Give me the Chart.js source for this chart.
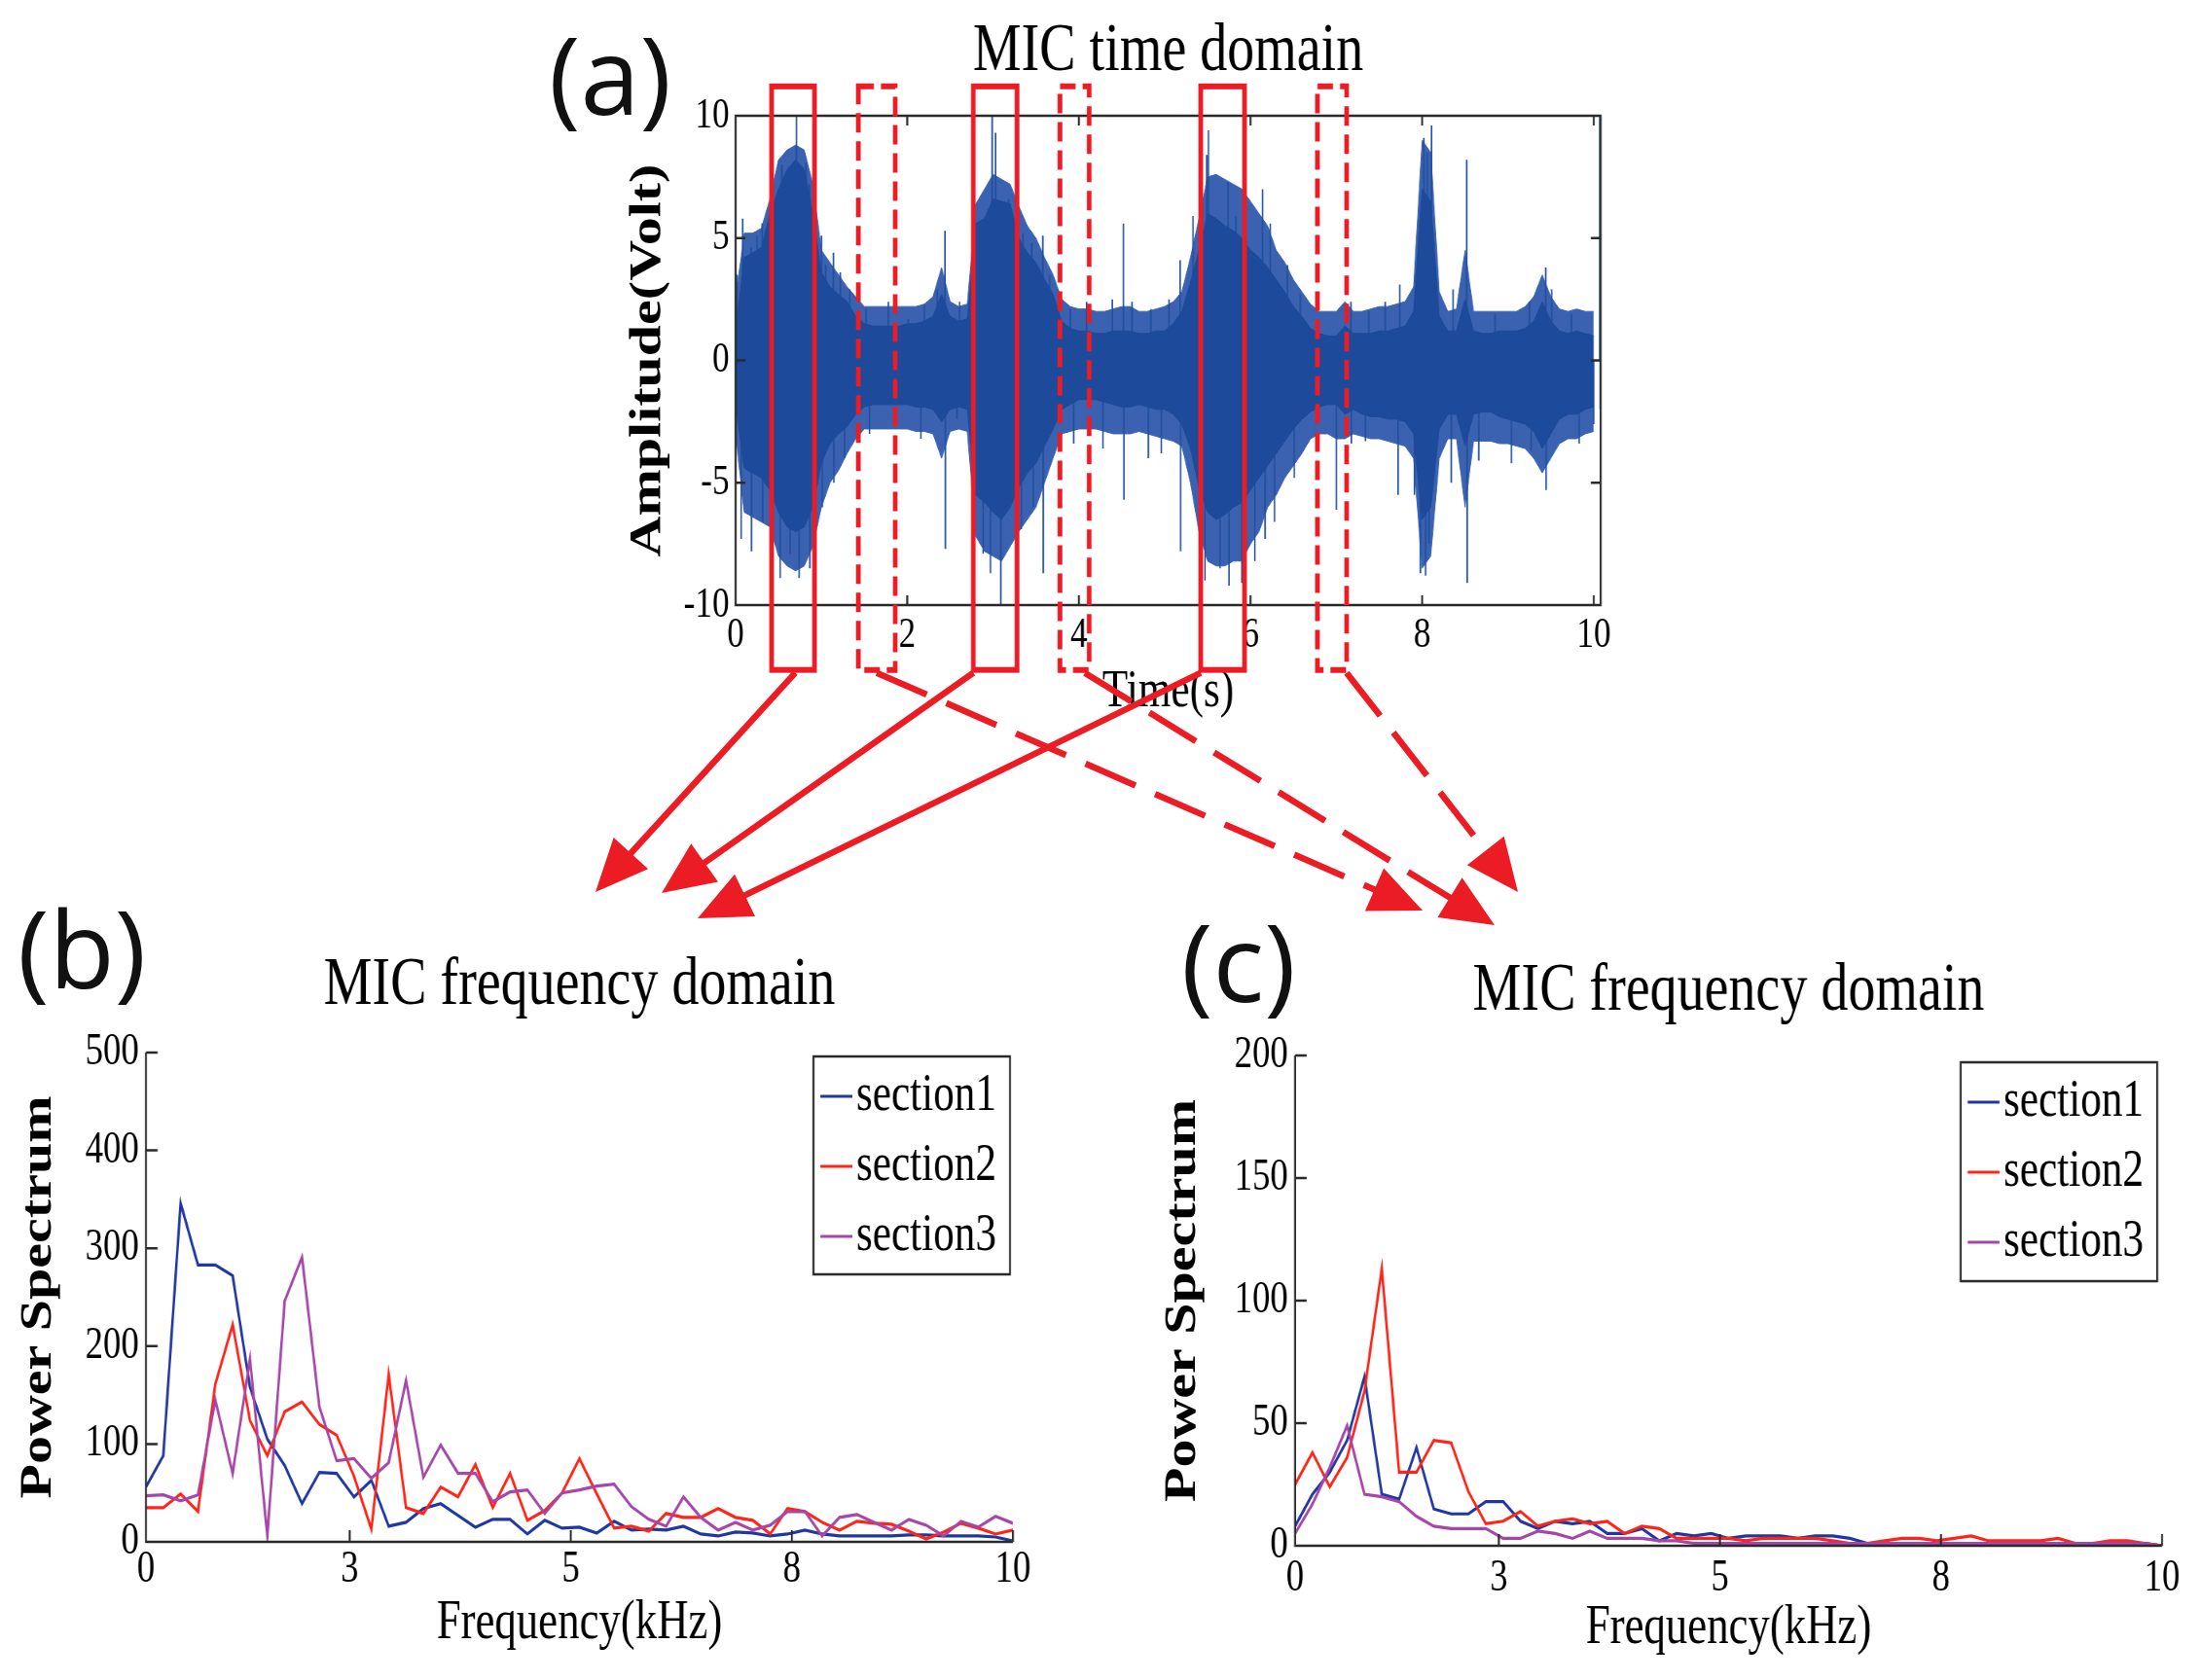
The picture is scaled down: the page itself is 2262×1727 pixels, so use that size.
<!DOCTYPE html>
<html>
<head>
<meta charset="utf-8">
<title>MIC time and frequency domain</title>
<script src="https://cdn.jsdelivr.net/npm/chart.js@4.4.1/dist/chart.umd.min.js"></script>
<style>
  html, body { margin: 0; padding: 0; background: #fff; overflow: hidden; }
  #page { position: relative; width: 2262px; height: 1727px; overflow: hidden; background: #fff; }
  canvas { position: absolute; }
</style>
</head>
<body>
<div id="page">
  <canvas id="timeChart" width="1450" height="760" style="left:620px;top:0;width:1160px;height:760px"></canvas>
  <canvas id="freqB" width="1490" height="767" style="left:0;top:960px;width:1192px;height:767px"></canvas>
  <canvas id="freqC" width="1490" height="767" style="left:1180px;top:960px;width:1192px;height:767px"></canvas>
  <canvas id="overlay" width="2262" height="1727" style="left:0;top:0;width:2262px;height:1727px"></canvas>
</div>
<script>
// ---- (a) time domain: envelope of the signal, read every 0.1 s ----
const envTime = [0, 0.1, 0.2, 0.3, 0.4, 0.5, 0.6, 0.7, 0.8, 0.9,
  1, 1.1, 1.2, 1.3, 1.4, 1.5, 1.6, 1.7, 1.8, 1.9,
  2, 2.1, 2.2, 2.3, 2.4, 2.5, 2.6, 2.7, 2.8, 2.9,
  3, 3.1, 3.2, 3.3, 3.4, 3.5, 3.6, 3.7, 3.8, 3.9,
  4, 4.1, 4.2, 4.3, 4.4, 4.5, 4.6, 4.7, 4.8, 4.9,
  5, 5.1, 5.2, 5.3, 5.4, 5.5, 5.6, 5.7, 5.8, 5.9,
  6, 6.1, 6.2, 6.3, 6.4, 6.5, 6.6, 6.7, 6.8, 6.9,
  7, 7.1, 7.2, 7.3, 7.4, 7.5, 7.6, 7.7, 7.8, 7.9,
  8, 8.1, 8.2, 8.3, 8.4, 8.5, 8.6, 8.7, 8.8, 8.9,
  9, 9.1, 9.2, 9.3, 9.4, 9.5, 9.6, 9.7, 9.8, 9.9,
  10];
// dense dark core
const coreUpper = [1.2, 4.2, 4.4, 4.6, 6.0, 7.0, 7.8, 8.2, 7.8, 6.0,
  3.6, 3.0, 2.7, 2.4, 1.8, 1.5, 1.4, 1.4, 1.4, 1.4,
  1.5, 1.5, 1.6, 1.8, 2.7, 1.8, 1.6, 1.7, 5.6, 5.8,
  6.6, 6.5, 6.4, 5.0, 4.4, 4.0, 3.3, 2.7, 1.6, 1.3,
  1.2, 1.2, 1.1, 1.1, 1.2, 1.2, 1.2, 1.1, 1.1, 1.2,
  1.2, 1.5, 2.0, 3.2, 4.5, 6.0, 5.8, 5.5, 5.3, 5.0,
  4.5, 4.2, 3.8, 3.3, 2.8, 2.2, 1.8, 1.3, 1.1, 1.0,
  1.0, 1.4, 1.1, 1.1, 1.1, 1.2, 1.2, 1.3, 1.4, 2.0,
  7.0, 6.5, 1.8, 1.2, 1.2, 2.5, 1.2, 1.1, 1.1, 1.2,
  1.2, 1.2, 1.3, 1.6, 2.4, 1.6, 1.2, 1.1, 1.2, 1.1,
  1.0];
const coreLower = [-1.8, -4.4, -4.6, -4.8, -5.3, -6.2, -6.8, -7.0, -6.8, -6.0,
  -4.2, -3.4, -3.0, -2.7, -2.2, -1.9, -1.8, -1.8, -1.8, -1.8,
  -1.8, -1.9, -1.9, -2.0, -2.5, -2.0, -1.9, -2.0, -5.5, -5.8,
  -6.2, -6.5, -6.0, -5.2, -4.6, -4.2, -3.5, -2.8, -2.0, -1.8,
  -1.6, -1.6, -1.6, -1.7, -1.8, -1.9, -1.9, -1.8, -1.9, -2.0,
  -2.0, -2.2, -2.6, -3.6, -5.2, -6.2, -6.5, -6.3, -6.0, -5.8,
  -5.3, -4.8, -4.3, -3.8, -3.3, -2.8, -2.4, -2.1, -1.9, -1.8,
  -1.8, -2.2, -2.0, -2.2, -2.3, -2.3, -2.4, -2.4, -2.5, -3.0,
  -6.5, -6.0, -2.8, -2.2, -2.2, -3.5, -2.2, -2.1, -2.1, -2.3,
  -2.4, -2.5, -2.6, -2.9, -3.6, -3.0, -2.4, -2.2, -2.2, -2.0,
  -1.9];
// fringe made of many thin spikes
const fringeUpper = [2.5, 5.2, 5.2, 5.4, 6.6, 8.2, 8.6, 8.8, 8.6, 7.2,
  4.5, 4.0, 3.5, 3.0, 2.6, 2.2, 2.2, 2.2, 2.2, 2.2,
  2.2, 2.2, 2.3, 2.6, 3.8, 2.4, 2.2, 2.3, 6.4, 7.0,
  7.6, 7.4, 7.2, 6.3, 5.5, 5.0, 4.2, 3.5, 2.5, 2.2,
  2.1, 2.1, 2.0, 2.0, 2.1, 2.2, 2.2, 2.0, 2.0, 2.1,
  2.2, 2.4, 2.8, 4.2, 5.8, 7.5, 7.6, 7.4, 7.2, 7.0,
  6.5, 6.0, 5.5, 4.5, 4.0, 3.3, 2.8, 2.3, 2.0, 2.0,
  2.0, 2.4, 2.0, 2.0, 2.1, 2.2, 2.2, 2.3, 2.4, 3.0,
  9.0, 8.5, 2.8, 2.0, 2.1, 4.5, 2.0, 2.0, 2.0, 2.0,
  2.0, 2.0, 2.2, 2.6, 3.5, 2.6, 2.1, 2.0, 2.1, 2.0,
  2.0];
const fringeLower = [-3.0, -6.2, -6.4, -6.6, -6.8, -8.0, -8.4, -8.6, -8.4, -7.6,
  -6.0, -5.0, -4.5, -3.8, -3.2, -2.8, -2.8, -2.8, -2.8, -2.8,
  -2.8, -2.9, -2.9, -3.0, -4.0, -2.9, -2.8, -2.9, -7.2, -7.8,
  -8.0, -8.2, -7.6, -7.0, -6.5, -6.0, -5.0, -4.0, -3.0, -2.9,
  -2.8, -2.8, -2.8, -2.9, -3.0, -3.0, -3.0, -2.9, -3.0, -3.1,
  -3.2, -3.3, -3.5, -5.0, -7.0, -8.2, -8.4, -8.4, -8.2, -8.2,
  -7.5, -7.0, -6.0, -5.5, -4.8, -4.3, -3.8, -3.2, -3.0, -3.0,
  -3.2, -3.2, -3.0, -3.1, -3.2, -3.2, -3.3, -3.4, -3.5, -4.0,
  -8.5, -8.0, -4.0, -3.2, -3.2, -6.0, -3.3, -3.3, -3.3, -3.4,
  -3.4, -3.5, -3.6, -4.0, -4.6, -4.0, -3.4, -3.2, -3.2, -3.0,
  -2.9];
// isolated spikes that stick out of the signal (time in s, peak in V)
const spikeTimes = [0.015, 0.065, 0.083, 0.18, 0.185, 0.25, 0.31, 0.315, 0.40, 0.42,
  0.52, 0.54, 0.63, 0.635, 0.71, 0.74, 0.82, 0.86, 0.865, 1.0,
  1.01, 1.05, 1.14, 1.145, 1.22, 1.27, 1.33, 1.52, 1.56, 1.78,
  2.01, 2.16, 2.2, 2.35, 2.44, 2.445, 2.58, 2.61, 2.88, 2.885,
  2.97, 2.99, 3.03, 3.09, 3.18, 3.33, 3.35, 3.45, 3.47, 3.58,
  3.585, 3.66, 3.9, 3.94, 4.09, 4.28, 4.39, 4.52, 4.525, 4.62,
  4.81, 4.84, 4.96, 5.05, 5.18, 5.185, 5.33, 5.47, 5.49, 5.51,
  5.64, 5.645, 5.74, 5.75, 5.83, 5.90, 5.94, 6.05, 6.14, 6.17,
  6.23, 6.28, 6.43, 6.51, 6.58, 7.0, 7.17, 7.175, 7.34, 7.38,
  7.57, 7.72, 7.74, 7.91, 7.98, 8.02, 8.04, 8.06, 8.08, 8.11,
  8.34, 8.36, 8.52, 8.525, 8.66, 8.85, 9.04, 9.25, 9.27, 9.44,
  9.445, 9.51, 9.74, 9.83, 10.0, 10.07, 10.075];
const spikeAmps = [3.5, -7.3, 5.8, 4.6, -7.8, 5.1, 5.6, -6.6, -5.4, 6.0,
  -8.9, 8.0, 7.2, -7.9, 10.0, -8.9, 8.1, 7.2, -8.5, 5.1,
  -6.0, 3.9, 4.4, -5.0, 3.6, -4.0, 2.9, 2.1, -3.0, 2.4,
  1.7, -3.2, 2.3, 2.9, 5.3, -7.7, -2.4, 2.4, 5.7, -7.9,
  -8.7, 10.0, 9.3, -10.0, 6.6, -6.9, 5.2, 4.8, -6.0, 5.1,
  -8.7, 3.5, 2.1, -3.4, 2.4, -3.6, 2.5, 5.6, -5.7, 2.4,
  -4.0, 2.1, -3.8, 2.5, 4.1, -7.8, 5.9, -9.0, 8.4, 9.4,
  5.7, -8.5, 7.3, -9.2, 5.9, -9.1, 5.1, -8.2, 7.0, -7.3,
  5.6, -6.6, 3.9, -4.8, 2.7, -6.1, 2.4, -3.4, -3.3, 2.0,
  2.4, -5.5, 3.1, -5.5, -8.7, 9.1, -8.8, 8.5, -7.5, 9.6,
  -5.0, 2.9, 8.2, -9.1, -4.1, 1.9, -4.2, 2.4, -3.7, 3.8,
  -5.3, 2.9, 1.9, -3.4, -2.6, 10.0, -2.0];
const timeTicks = [0, 2, 4, 6, 8, 10];
const ampTicks = [-10, -5, 0, 5, 10];

// highlighted sections (s); solid boxes feed (b), dashed boxes feed (c)
const sectionStart = [0.42, 2.77, 5.42, 1.43, 3.78, 6.78];
const sectionEnd = [0.92, 3.28, 5.93, 1.86, 4.12, 7.12];
const sectionDashed = [false, false, false, true, true, true];

// ---- (b) and (c) frequency domain ----
const freqKHz = [0, 0.2, 0.4, 0.6, 0.8, 1, 1.2, 1.4, 1.6, 1.8,
  2, 2.2, 2.4, 2.6, 2.8, 3, 3.2, 3.4, 3.6, 3.8,
  4, 4.2, 4.4, 4.6, 4.8, 5, 5.2, 5.4, 5.6, 5.8,
  6, 6.2, 6.4, 6.6, 6.8, 7, 7.2, 7.4, 7.6, 7.8,
  8, 8.2, 8.4, 8.6, 8.8, 9, 9.2, 9.4, 9.6, 9.8, 10];
const freqTickValues = [0, 2.35, 4.9, 7.45, 10];
const freqTickLabels = ['0', '3', '5', '8', '10'];
const seriesNames = ['section1', 'section2', 'section3'];

const solidS1 = [56, 88, 346, 283, 283, 272, 158, 105, 78, 39,
  71, 70, 46, 63, 16, 20, 34, 39, 27, 15,
  23, 23, 8, 22, 14, 15, 9, 21, 12, 13,
  12, 16, 8, 6, 10, 9, 6, 8, 12, 8,
  6, 6, 6, 6, 7, 7, 6, 6, 6, 5, 1];
const solidS2 = [35, 35, 49, 31, 161, 222, 124, 88, 133, 143,
  120, 109, 67, 13, 171, 35, 29, 56, 46, 79,
  35, 70, 22, 32, 50, 85, 49, 14, 16, 11,
  29, 25, 25, 34, 25, 22, 8, 34, 31, 20,
  12, 21, 19, 18, 11, 3, 10, 19, 14, 8, 12];
const solidS3 = [47, 48, 42, 48, 145, 70, 187, 6, 246, 291,
  138, 83, 85, 65, 81, 165, 66, 99, 70, 70,
  41, 51, 53, 29, 50, 53, 57, 59, 36, 23,
  16, 46, 25, 12, 20, 12, 17, 31, 31, 6,
  25, 28, 20, 12, 23, 17, 6, 21, 15, 26, 19];

const dashedS1 = [8, 21, 30, 43, 69, 21, 19, 40, 15, 13,
  13, 18, 18, 10, 7, 10, 9, 10, 5, 5,
  7, 2, 5, 4, 5, 3, 4, 4, 4, 3,
  4, 4, 3, 1, 1, 1, 1, 1, 1, 1,
  1, 1, 1, 1, 1, 1, 1, 1, 1, 1, 0];
const dashedS2 = [25, 38, 24, 36, 63, 113, 30, 30, 43, 42,
  22, 9, 10, 14, 8, 10, 11, 9, 10, 5,
  8, 7, 3, 3, 3, 3, 2, 3, 3, 3,
  3, 2, 1, 1, 2, 3, 3, 2, 3, 4,
  2, 2, 2, 2, 3, 1, 1, 2, 2, 1, 0];
const dashedS3 = [5, 17, 32, 49, 21, 20, 18, 12, 8, 7,
  7, 7, 3, 3, 6, 5, 3, 6, 3, 3,
  3, 2, 2, 1, 1, 1, 1, 1, 1, 1,
  1, 1, 1, 1, 1, 1, 1, 1, 1, 1,
  1, 1, 1, 1, 1, 1, 1, 1, 1, 1, 0];

// ---- look ----
const SX = 0.8;  // the figure is squeezed horizontally
const SERIF = "'Liberation Serif', 'Times New Roman', serif";
const RED = '#ec1c24';
const WAVE = '#1d4a9b';
const FRINGE = '#3a62b0';
const INK = '#2a2a2a';
const LINE_COLORS = ['#2137a0', '#ff2418', '#a646a9'];

function serif(size, weight) {
  return { family: SERIF, size: size, weight: weight || 'normal', lineHeight: 1 };
}

// title centred over the plot area
const plotTitle = {
  id: 'plotTitle',
  afterDraw(chart, args, opts) {
    const { ctx, chartArea } = chart;
    ctx.save();
    ctx.fillStyle = '#000';
    ctx.font = '70px ' + SERIF;
    ctx.textAlign = 'center';
    ctx.textBaseline = 'alphabetic';
    ctx.fillText(opts.text, (chartArea.left + chartArea.right) / 2, opts.baseline);
    ctx.restore();
  },
};

// axis lines with MATLAB style inward ticks
const framePlugin = {
  id: 'frame',
  afterDraw(chart, args, opts) {
    const { ctx, chartArea: a, scales: { x, y } } = chart;
    ctx.save();
    ctx.strokeStyle = INK;
    ctx.lineWidth = 2.5;
    ctx.beginPath();
    if (opts.box) {
      ctx.rect(a.left, a.top, a.right - a.left, a.bottom - a.top);
    } else {
      ctx.moveTo(a.left, a.top);
      ctx.lineTo(a.left, a.bottom);
      ctx.lineTo(a.right, a.bottom);
    }
    x.ticks.forEach((t) => {
      const px = x.getPixelForValue(t.value);
      ctx.moveTo(px, a.bottom);
      ctx.lineTo(px, a.bottom - opts.tick);
      if (opts.box) {
        ctx.moveTo(px, a.top);
        ctx.lineTo(px, a.top + opts.tick);
      }
    });
    y.ticks.forEach((t) => {
      const py = y.getPixelForValue(t.value);
      ctx.moveTo(a.left, py);
      ctx.lineTo(a.left + opts.tick / SX, py);
      if (opts.box) {
        ctx.moveTo(a.right, py);
        ctx.lineTo(a.right - opts.tick / SX, py);
      }
    });
    ctx.stroke();
    ctx.restore();
  },
};

// red section boxes over the time signal
const sectionPlugin = {
  id: 'sections',
  afterDraw(chart, args, opts) {
    const { ctx, scales: { x, y } } = chart;
    const top = y.getPixelForValue(opts.top);
    const bottom = y.getPixelForValue(opts.bottom);
    ctx.save();
    ctx.strokeStyle = RED;
    ctx.lineWidth = 6;
    sectionStart.forEach((t0, i) => {
      const x0 = x.getPixelForValue(t0);
      const x1 = x.getPixelForValue(sectionEnd[i]);
      ctx.setLineDash(sectionDashed[i] ? [20, 9] : []);
      ctx.strokeRect(x0, top, x1 - x0, bottom - top);
    });
    ctx.restore();
  },
};

// boxed legend in the upper right corner of the plot
const boxLegend = {
  id: 'boxLegend',
  afterDraw(chart, args, opts) {
    const { ctx, chartArea } = chart;
    const x0 = chartArea.right - opts.inset[0] - opts.width;
    const y0 = chartArea.top + opts.inset[1];
    ctx.save();
    ctx.fillStyle = '#fff';
    ctx.fillRect(x0, y0, opts.width, opts.height);
    ctx.strokeStyle = INK;
    ctx.lineWidth = 2.5;
    ctx.strokeRect(x0, y0, opts.width, opts.height);
    ctx.font = '54px ' + SERIF;
    ctx.textBaseline = 'middle';
    chart.data.datasets.forEach((ds, i) => {
      const y = y0 + opts.rows[i];
      ctx.strokeStyle = ds.borderColor;
      ctx.lineWidth = 3;
      ctx.beginPath();
      ctx.moveTo(x0 + 9, y);
      ctx.lineTo(x0 + 50, y);
      ctx.stroke();
      ctx.fillStyle = '#000';
      ctx.fillText(ds.label, x0 + 55, y);
    });
    ctx.restore();
  },
};

// ---- chart (a) ----
const spikePoints = [];
spikeTimes.forEach((t, i) => {
  spikePoints.push({ x: t, y: 0 }, { x: t, y: spikeAmps[i] }, { x: t, y: null });
});

const timeChart = new Chart(document.getElementById('timeChart'), {
  type: 'line',
  data: {
    datasets: [
      {
        label: 'core upper',
        data: envTime.map((t, i) => ({ x: t, y: coreUpper[i] })),
        borderColor: WAVE,
        backgroundColor: WAVE,
        borderWidth: 1,
        pointRadius: 0,
        fill: '+1',
      },
      {
        label: 'core lower',
        data: envTime.map((t, i) => ({ x: t, y: coreLower[i] })),
        borderColor: WAVE,
        borderWidth: 1,
        pointRadius: 0,
        fill: false,
      },
      {
        label: 'spikes',
        data: spikePoints,
        borderColor: '#22509f',
        borderWidth: 2,
        pointRadius: 0,
        spanGaps: false,
        fill: false,
      },
      {
        label: 'fringe upper',
        data: envTime.map((t, i) => ({ x: t, y: fringeUpper[i] })),
        borderColor: FRINGE,
        backgroundColor: FRINGE,
        borderWidth: 1,
        pointRadius: 0,
        fill: '+1',
      },
      {
        label: 'fringe lower',
        data: envTime.map((t, i) => ({ x: t, y: fringeLower[i] })),
        borderColor: FRINGE,
        borderWidth: 1,
        pointRadius: 0,
        fill: false,
      },
    ],
  },
  options: {
    responsive: false,
    animation: false,
    devicePixelRatio: 1,
    events: [],
    layout: { padding: { left: 0, right: 168.75, top: 119, bottom: 0 } },
    plugins: {
      legend: { display: false },
      tooltip: { enabled: false },
      title: { display: false },
      plotTitle: { text: 'MIC time domain', baseline: 72 },
      frame: { box: true, tick: 10 },
      sections: { top: 11.2, bottom: -12.65 },
    },
    scales: {
      x: {
        type: 'linear',
        min: 0,
        max: 10.08,
        bounds: 'data',
        afterBuildTicks: (s) => { s.ticks = timeTicks.map((v) => ({ value: v })); },
        afterFit: (s) => { s.height = 138; },
        grid: { display: false, drawTicks: false, tickLength: 0 },
        border: { display: false },
        ticks: { color: '#000', font: serif(44), padding: 9, maxRotation: 0, autoSkip: false,
          callback: (v) => String(v) },
        title: { display: true, text: 'Time(s)', color: '#000', font: serif(54),
          padding: { top: 0, bottom: 21 } },
      },
      y: {
        type: 'linear',
        min: -10,
        max: 10,
        bounds: 'data',
        afterBuildTicks: (s) => { s.ticks = ampTicks.map((v) => ({ value: v })); },
        afterFit: (s) => { s.width = 170; },
        grid: { display: false, drawTicks: false, tickLength: 0 },
        border: { display: false },
        ticks: { color: '#000', font: serif(44), padding: 8, autoSkip: false,
          callback: (v) => String(v) },
        title: { display: true, text: 'Amplitude(Volt)', color: '#000', font: serif(58, 'bold'),
          padding: { top: 29, bottom: 0 } },
      },
    },
  },
  plugins: [framePlugin, sectionPlugin, plotTitle],
});

// ---- charts (b) and (c) ----
function freqChart(id, series, yMax, yTicks, lay) {
  return new Chart(document.getElementById(id), {
    type: 'line',
    data: {
      datasets: series.map((vals, k) => ({
        label: seriesNames[k],
        data: freqKHz.map((f, i) => ({ x: f, y: vals[i] })),
        borderColor: LINE_COLORS[k],
        borderWidth: 3.2,
        pointRadius: 0,
        fill: false,
        order: 3 - k,
      })),
    },
    options: {
      responsive: false,
      animation: false,
      devicePixelRatio: 1,
      events: [],
      layout: { padding: { left: 0, right: lay.padRight, top: lay.top, bottom: 0 } },
      plugins: {
        legend: { display: false },
        tooltip: { enabled: false },
        title: { display: false },
        plotTitle: { text: 'MIC frequency domain', baseline: lay.titleBaseline },
        frame: { box: false, tick: 12 },
        boxLegend: { inset: lay.legendInset, width: 252.5, height: lay.legendHeight, rows: [41, 113, 185] },
      },
      scales: {
        x: {
          type: 'linear',
          min: 0,
          max: 10,
          bounds: 'data',
          afterBuildTicks: (s) => { s.ticks = freqTickValues.map((v) => ({ value: v })); },
          afterFit: (s) => { s.height = lay.xHeight; },
          grid: { display: false, drawTicks: false, tickLength: 0 },
          border: { display: false },
          ticks: { color: '#000', font: serif(46), padding: lay.xTickPad, maxRotation: 0, autoSkip: false,
            callback: (v, i) => freqTickLabels[i] },
          title: { display: true, text: 'Frequency(kHz)', color: '#000', font: serif(56),
            padding: { top: 0, bottom: lay.xTitlePad } },
        },
        y: {
          type: 'linear',
          min: 0,
          max: yMax,
          bounds: 'data',
          afterBuildTicks: (s) => { s.ticks = yTicks.map((v) => ({ value: v })); },
          afterFit: (s) => { s.width = lay.yWidth; },
          grid: { display: false, drawTicks: false, tickLength: 0 },
          border: { display: false },
          ticks: { color: '#000', font: serif(46), padding: 9, autoSkip: false,
            callback: (v) => String(v) },
          title: { display: true, text: 'Power Spectrum', color: '#000', font: serif(58, 'bold'),
            padding: { top: lay.yTitlePad, bottom: 0 } },
        },
      },
    },
    plugins: [framePlugin, boxLegend, plotTitle],
  });
}

freqChart('freqB', [solidS1, solidS2, solidS3], 500, [0, 100, 200, 300, 400, 500], {
  padRight: 188.75, yWidth: 187.5, xHeight: 142, top: 122, titleBaseline: 72,
  yTitlePad: 21, xTitlePad: 30, xTickPad: 6, legendInset: [3.75, 4], legendHeight: 224,
});
freqChart('freqC', [dashedS1, dashedS2, dashedS3], 200, [0, 50, 100, 150, 200], {
  padRight: 187.5, yWidth: 188.75, xHeight: 138, top: 125, titleBaseline: 78,
  yTitlePad: 16, xTitlePad: 25, xTickPad: 11, legendInset: [6.25, 7], legendHeight: 225,
});

// ---- arrows from the sections to the spectra, and panel letters ----
const TIME_LEFT = 620;  // page x of the (a) canvas
const arrowLinks = [
  { box: 0, at: 0.55, tip: [612, 917] },
  { box: 1, at: 0.0, tip: [680, 918] },
  { box: 2, at: 0.0, tip: [717, 944] },
  { box: 3, at: 0.5, tip: [1462, 936] },
  { box: 4, at: 0.85, tip: [1536, 951] },
  { box: 5, at: 1.0, tip: [1560, 917] },
];

function drawArrow(ctx, x0, y0, x1, y1, dashed) {
  const dx = x1 - x0;
  const dy = y1 - y0;
  const len = Math.hypot(dx, dy);
  const ux = dx / len;
  const uy = dy / len;
  const head = 54;
  const half = 24;
  const bx = x1 - ux * head;
  const by = y1 - uy * head;
  ctx.setLineDash(dashed ? [56, 22] : []);
  ctx.beginPath();
  ctx.moveTo(x0, y0);
  ctx.lineTo(bx + ux * 4, by + uy * 4);
  ctx.stroke();
  ctx.setLineDash([]);
  ctx.beginPath();
  ctx.moveTo(x1, y1);
  ctx.lineTo(bx - uy * half, by + ux * half);
  ctx.lineTo(bx + uy * half, by - ux * half);
  ctx.closePath();
  ctx.fill();
}

const ov = document.getElementById('overlay').getContext('2d');
ov.strokeStyle = RED;
ov.fillStyle = RED;
ov.lineWidth = 6.5;
const boxBottomY = timeChart.scales.y.getPixelForValue(-12.65) + 3;
arrowLinks.forEach((link) => {
  const t = sectionStart[link.box] + (sectionEnd[link.box] - sectionStart[link.box]) * link.at;
  const x0 = TIME_LEFT + timeChart.scales.x.getPixelForValue(t) * SX;
  drawArrow(ov, x0, boxBottomY, link.tip[0], link.tip[1], sectionDashed[link.box]);
});

ov.fillStyle = '#111';
ov.font = "110px 'Open Sans', 'DejaVu Sans', sans-serif";
ov.textBaseline = 'alphabetic';
ov.fillText('(a)', 564, 118);
ov.fillText('(b)', 18, 1016);
ov.fillText('(c)', 1214, 1030);
</script>
</body>
</html>
